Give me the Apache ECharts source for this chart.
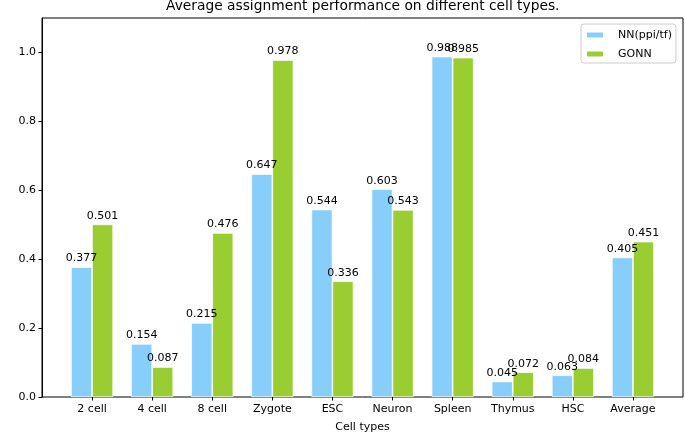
<!DOCTYPE html>
<html>
<head>
<meta charset="utf-8">
<script src="https://cdn.jsdelivr.net/npm/echarts@6/dist/echarts.min.js"></script>
<style>html,body{margin:0;padding:0;background:#fff}#c{width:685px;height:433px}</style>
</head>
<body>
<div id="c"></div>
<script>
const categories = ['2 cell','4 cell','8 cell','Zygote','ESC','Neuron','Spleen','Thymus','HSC','Average'];
const nnValues = [0.377,0.154,0.215,0.647,0.544,0.603,0.988,0.045,0.063,0.405];
const gonnValues = [0.501,0.087,0.476,0.978,0.336,0.543,0.985,0.072,0.084,0.451];
const yTicks = [0,0.2,0.4,0.6,0.8,1.0];
const seriesNames = ['NN(ppi/tf)','GONN'];

const FONT = 'DejaVu Sans';
const FS = 11;
const chart = echarts.init(document.getElementById('c'), null, {renderer:'canvas'});
const labelCfg = {show:true, position:'top', distance:3, color:'#000', fontSize:FS, fontFamily:FONT,
  formatter: p => p.value.toFixed(3)};
const txt = {fontFamily:FONT, fontSize:FS, color:'#000'};
chart.setOption({
  animation:false,
  backgroundColor:'#fff',
  title:{text:'Average assignment performance on different cell types.', left:166, top:-1, padding:0,
    textStyle:{fontFamily:FONT, fontSize:13.8, fontWeight:'normal', color:'#000'}},
  legend:{orient:'vertical', left:581, top:24, padding:[4,4,2,4], itemWidth:18, itemHeight:7, itemGap:5,
    borderColor:'#ccc', borderWidth:1, borderRadius:3, backgroundColor:'rgba(255,255,255,0.8)',
    textStyle:Object.assign({padding:[0,0,0,9], lineHeight:14}, txt), data:seriesNames},
  grid:[
    {left:42, right:2, top:18, bottom:36, show:true, borderColor:'#000', borderWidth:1, outerBoundsMode:'none', containLabel:false},
    {left:62, right:22, top:18, bottom:36, outerBoundsMode:'none', containLabel:false}
  ],
  xAxis:[
    {gridIndex:0, type:'value', min:0, max:1, show:false},
    {gridIndex:1, type:'category', data:categories, boundaryGap:true,
     name:'Cell types', nameLocation:'middle', nameGap:25, nameTextStyle:txt,
     axisLine:{show:false},
     axisTick:{show:true, alignWithLabel:true, length:3.5, lineStyle:{color:'#000'}},
     axisLabel:Object.assign({margin:7, interval:0}, txt),
     splitLine:{show:false}}
  ],
  yAxis:[
    {gridIndex:0, type:'value', min:0, max:1.1, name:'MAP', nameLocation:'middle', nameGap:48,
     nameTextStyle:txt,
     axisLine:{show:true, onZero:false, lineStyle:{color:'#000'}},
     axisTick:{show:true, length:3.5, lineStyle:{color:'#000'}, customValues:yTicks},
     axisLabel:Object.assign({customValues:yTicks, margin:6, formatter: v => v.toFixed(1)}, txt),
     splitLine:{show:false}},
    {gridIndex:1, type:'value', min:0, max:1.1, show:false}
  ],
  series:[
    {name:seriesNames[0], type:'bar', xAxisIndex:1, yAxisIndex:1, barWidth:'35%', barGap:'0%',
     itemStyle:{color:'#87CEFA', borderColor:'#fff', borderWidth:0.7},
     label:labelCfg, data: nnValues},
    {name:seriesNames[1], type:'bar', xAxisIndex:1, yAxisIndex:1, barWidth:'35%', barGap:'0%',
     itemStyle:{color:'#9ACD32', borderColor:'#fff', borderWidth:0.7},
     label:labelCfg, data: gonnValues}
  ]
});
</script>
</body>
</html>
